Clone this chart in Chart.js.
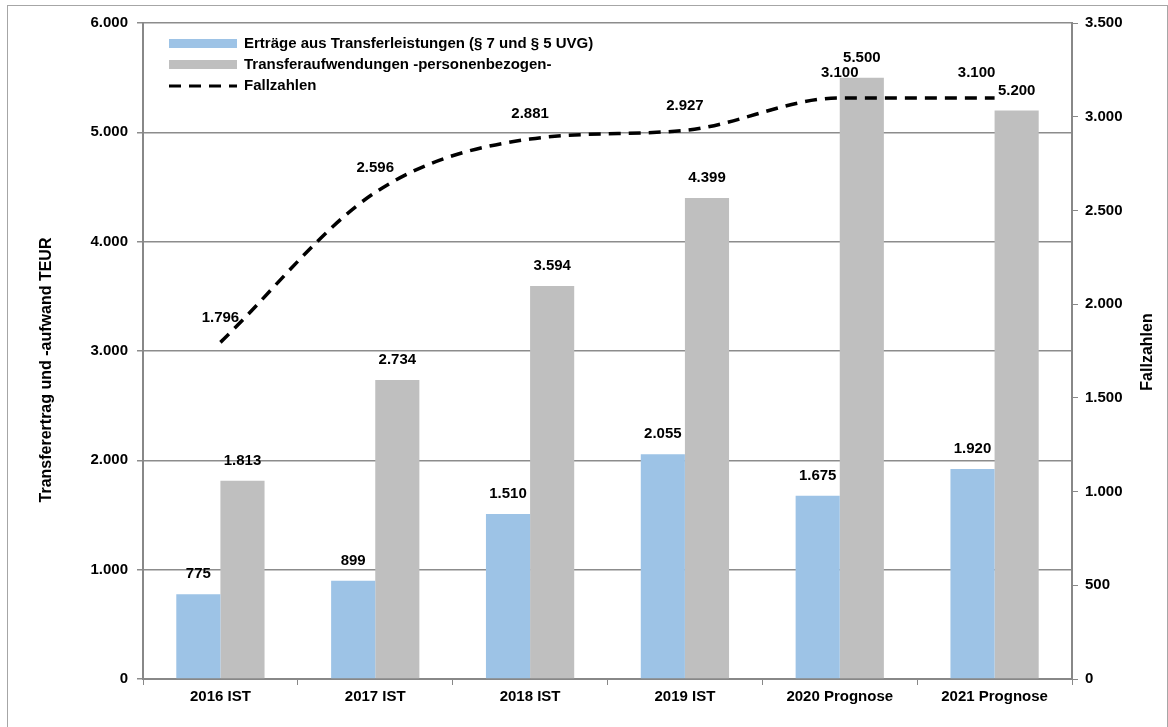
<!DOCTYPE html>
<html>
<head>
<meta charset="utf-8">
<script src="https://cdn.jsdelivr.net/npm/chart.js@4/dist/chart.umd.min.js"></script>
<style>
  html, body { margin: 0; padding: 0; background: #fff; }
  #wrap { width: 1168px; height: 727px; }
</style>
</head>
<body>
<div id="wrap"><canvas id="chart" width="1168" height="727"></canvas></div>
<script>
const categories = ['2016 IST', '2017 IST', '2018 IST', '2019 IST', '2020 Prognose', '2021 Prognose'];
const ertraege = [775, 899, 1510, 2055, 1675, 1920];
const aufwendungen = [1813, 2734, 3594, 4399, 5500, 5200];
const fallzahlen = [1796, 2596, 2881, 2927, 3100, 3100];

// horizontale Verschiebung der Fallzahlen-Labels (letztes weicht dem Balkenlabel aus)
const lineLabelDx = [0, 0, 0, 0, 0, -18];

const FONT = '"Liberation Sans", Arial, sans-serif';

// deutsche Tausenderpunkte
function fmt(v) {
  return String(v).replace(/\B(?=(\d{3})+(?!\d))/g, '.');
}

const extras = {
  id: 'extras',
  afterDatasetsDraw(chart) {
    const ctx = chart.ctx;
    ctx.save();
    ctx.font = 'bold 15px ' + FONT;
    ctx.fillStyle = '#000';
    ctx.textAlign = 'center';
    ctx.textBaseline = 'middle';
    // Balken-Labels
    [0, 1].forEach(function (di) {
      chart.getDatasetMeta(di).data.forEach(function (bar, i) {
        const v = chart.data.datasets[di].data[i];
        ctx.fillText(fmt(v), bar.x, bar.y - 20);
      });
    });
    // Linien-Labels
    chart.getDatasetMeta(2).data.forEach(function (pt, i) {
      ctx.fillText(fmt(fallzahlen[i]), pt.x + lineLabelDx[i], pt.y - 25);
    });
    ctx.restore();
  },
  afterDraw(chart) {
    const ctx = chart.ctx;
    ctx.save();
    // Rahmen
    ctx.strokeStyle = '#a6a6a6';
    ctx.lineWidth = 1;
    ctx.strokeRect(7.5, 5.5, 1160, 730);

    // Legende
    ctx.font = 'bold 15px ' + FONT;
    ctx.textAlign = 'left';
    ctx.textBaseline = 'middle';
    ctx.fillStyle = '#9dc3e6';
    ctx.fillRect(169, 39, 68, 9);
    ctx.fillStyle = '#bfbfbf';
    ctx.fillRect(169, 60, 68, 9);
    ctx.strokeStyle = '#000';
    ctx.lineWidth = 3;
    ctx.setLineDash([12, 8]);
    ctx.beginPath();
    ctx.moveTo(169, 86);
    ctx.lineTo(237, 86);
    ctx.stroke();
    ctx.setLineDash([]);
    ctx.fillStyle = '#000';
    ctx.fillText('Erträge aus Transferleistungen (§ 7 und § 5 UVG)', 244, 44);
    ctx.fillText('Transferaufwendungen -personenbezogen-', 244, 65);
    ctx.fillText('Fallzahlen', 244, 86);

    // Achsentitel
    ctx.font = 'bold 16px ' + FONT;
    ctx.textAlign = 'center';
    ctx.save();
    ctx.translate(47, 370);
    ctx.rotate(-Math.PI / 2);
    ctx.fillText('Transferertrag und -aufwand TEUR', 0, 0);
    ctx.restore();
    ctx.save();
    ctx.translate(1148, 352);
    ctx.rotate(-Math.PI / 2);
    ctx.fillText('Fallzahlen', 0, 0);
    ctx.restore();
    ctx.restore();
  }
};

const tickFont = { family: FONT, size: 15, weight: 'bold' };

let config = {
  type: 'bar',
  data: {
    labels: categories,
    datasets: [
      {
        label: 'Erträge aus Transferleistungen (§ 7 und § 5 UVG)',
        data: ertraege,
        backgroundColor: '#9dc3e6',
        yAxisID: 'y',
        order: 1,
        categoryPercentage: 0.57,
        barPercentage: 1
      },
      {
        label: 'Transferaufwendungen -personenbezogen-',
        data: aufwendungen,
        backgroundColor: '#bfbfbf',
        yAxisID: 'y',
        order: 1,
        categoryPercentage: 0.57,
        barPercentage: 1
      },
      {
        type: 'line',
        label: 'Fallzahlen',
        data: fallzahlen,
        yAxisID: 'y1',
        borderColor: '#000',
        borderWidth: 3.5,
        borderDash: [12, 8],
        pointRadius: 0,
        cubicInterpolationMode: 'monotone',
        fill: false,
        order: 0
      }
    ]
  },
  options: {
    responsive: false,
    animation: false,
    layout: { padding: { top: 23, left: 0, right: 0, bottom: 0 } },
    plugins: {
      legend: { display: false },
      tooltip: { enabled: false }
    },
    scales: {
      x: {
        grid: { drawOnChartArea: false, tickLength: 6, color: '#888', offset: true },
        border: { color: '#888', width: 2 },
        ticks: { font: tickFont, color: '#000', padding: 3, maxRotation: 0 },
        afterFit: function (s) { s.height = 48; }
      },
      y: {
        position: 'left',
        min: 0,
        max: 6000,
        grid: { color: '#8c8c8c', lineWidth: 1.5, tickLength: 6 },
        border: { color: '#888', width: 2 },
        ticks: { stepSize: 1000, font: tickFont, color: '#000', padding: 9, callback: function (v) { return fmt(v); } },
        afterFit: function (s) { s.width = 143; }
      },
      y1: {
        position: 'right',
        min: 0,
        max: 3500,
        grid: { drawOnChartArea: false, tickLength: 6, color: '#888' },
        border: { color: '#888', width: 2 },
        ticks: { stepSize: 500, font: tickFont, color: '#000', padding: 7, callback: function (v) { return fmt(v); } },
        afterFit: function (s) { s.width = 96; }
      }
    }
  },
  plugins: [extras]
};

let canvas = document.getElementById('chart');
let chart = new Chart(canvas, config);
</script>
</body>
</html>
